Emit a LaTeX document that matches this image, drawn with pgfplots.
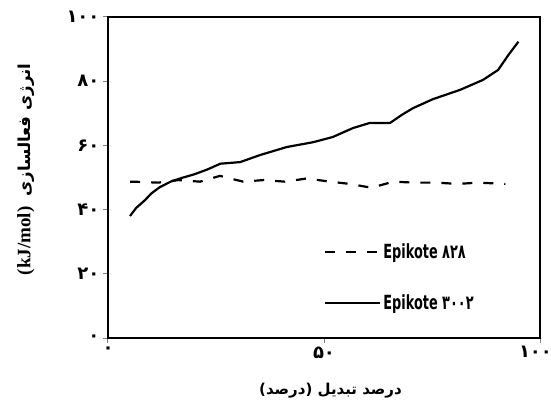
\documentclass[border=0pt]{standalone}
\usepackage{fontspec}
\usepackage{pgfplots}
\pgfplotsset{compat=1.18}
\TeXXeTstate=1
\setmainfont{Liberation Serif}
\newfontfamily\arabicfont[Script=Arabic]{DejaVu Sans}
\newfontfamily\digitfont{DejaVu Sans}
\newfontfamily\narrowfont[FakeStretch=0.66]{DejaVu Sans}

\pgfplotstableread{
x y
5.1 48.7
5.9 48.7
11.6 48.4
16.3 49.2
21.3 48.7
25.9 50.5
31.3 48.7
36 49.2
41 48.7
46 49.7
51.4 48.7
56 48.0
61 46.8
66 48.7
71 48.4
76 48.4
81 48.0
85.7 48.4
92 48.0
}\epikoteA

\pgfplotstableread{
x y
5.1 38
6.5 40.5
8.6 43
10 45
12 47
14.5 48.7
17.4 50
20 51
23 52.5
26 54.3
30.6 54.8
35.2 57
41.4 59.5
47.5 61
52 62.6
56.7 65.4
60.6 67
65.3 67
68 69.5
70.6 71.6
75.2 74.4
81.5 77.3
86.8 80.4
90.3 83.5
92.6 88
95 92.3
}\epikoteB

\begin{document}
\begin{tikzpicture}
\begin{axis}[
  name=ax,
  at={(0pt,0pt)}, anchor=south west,
  scale only axis, width=432pt, height=321pt,
  xmin=0, xmax=100, ymin=0, ymax=100,
  xtick={0,50,100}, xticklabels={۰,۵۰,\rlap{\hspace{-21pt}۱۰۰}},
  ytick={0,20,40,60,80,100}, yticklabels={۰,۲۰,۴۰,۶۰,۸۰,۱۰۰},
  ticklabel style={font=\digitfont\bfseries\fontsize{18}{18}\selectfont},
  axis line style={black, line width=1.6pt},
  tick style={gray, line width=1pt},
  tick align=outside, major tick length=5pt,
  xtick pos=bottom, ytick pos=left,
  every axis x label/.style={at={(axis description cs:0.515,-0.163)}, anchor=center},
  every axis y label/.style={at={(axis description cs:-0.19,0.525)}, rotate=90, anchor=center},
  xlabel={\arabicfont\bfseries\fontsize{15}{17}\selectfont\beginR درصد تبدیل (درصد)\endR},
  ylabel={\arabicfont\bfseries\fontsize{16.5}{18}\selectfont\beginR انرژی فعالسازی\hspace{10pt}\beginL{\rmfamily\fontsize{19}{20}\selectfont(kJ/mol)}\endL\endR},
  legend image code/.code={\draw[#1] (0pt,0pt) -- (55pt,0pt);},
  legend style={draw=none, fill=none, at={(axis cs:50,18.8)}, anchor=west,
    font=\narrowfont\bfseries\fontsize{19.5}{19.5}\selectfont, row sep=31pt, inner sep=0pt,
    cells={anchor=west}},
]
\addplot[black, line width=2.2pt, dash pattern=on 10pt off 11pt] table[x=x,y=y] {\epikoteA};
\addlegendentry{Epikote ۸۲۸}
\addplot[black, line width=2.2pt] table[x=x,y=y] {\epikoteB};
\addlegendentry{Epikote ۳۰۰۲}
\end{axis}
\pgfresetboundingbox
\path ([xshift=-108pt,yshift=-72pt]ax.south west) rectangle ([xshift=11pt,yshift=17pt]ax.north east);
\end{tikzpicture}
\end{document}
